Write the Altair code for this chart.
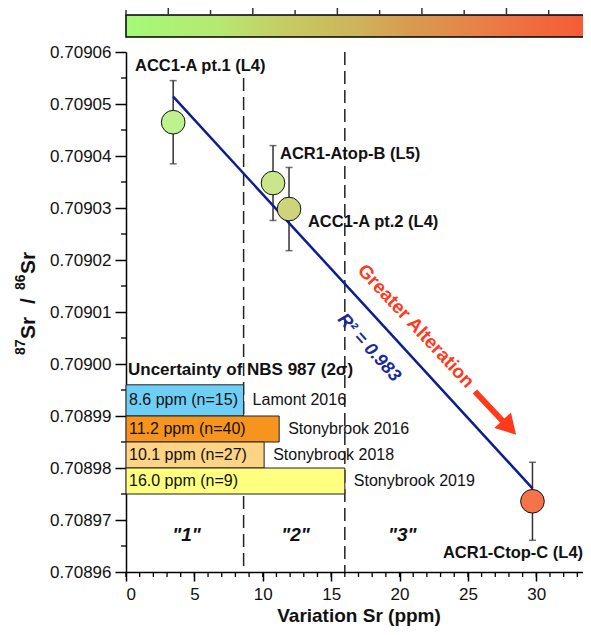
import altair as alt
import pandas as pd

# ---------------- data ----------------
samples = ["ACC1-A pt.1 (L4)", "ACR1-Atop-B (L5)", "ACC1-A pt.2 (L4)", "ACR1-Ctop-C (L4)"]
variation_sr = [3.45, 10.75, 11.92, 29.72]
sr_ratio = [0.7090465, 0.7090348, 0.7090298, 0.7089736]
sr_err = [0.0000080, 0.0000072, 0.0000080, 0.0000075]
point_colors = ["#bdf28e", "#c9e78a", "#cdd47c", "#f5734a"]

label_x = [0.66, 11.26, 13.30, 23.17]
label_y = [0.7090573, 0.7090404, 0.7090273, 0.7089637]

fit_x = [3.45, 29.72]
fit_y = [0.7090514, 0.7089761]
r2_text = "R\u00b2 = 0.983"

zone_bounds = [8.6, 16.0]
zone_tops = [0.709055, 0.709060]
zone_labels = ['"1"', '"2"', '"3"']
zone_label_x = [4.43, 12.4, 20.2]
zone_label_y = 0.7089671

sources = ["Lamont 2016", "Stonybrook 2016", "Stonybrook 2018", "Stonybrook 2019"]
uncert_ppm = [8.6, 11.2, 10.1, 16.0]
counts = [15, 40, 27, 9]
bar_top = [0.708996, 0.708990, 0.708985, 0.708980]
bar_bottom = [0.708990, 0.708985, 0.708980, 0.708975]
bar_colors = ["#6dcff6", "#f7941d", "#fdd385", "#ffff80"]
uncert_title = "Uncertainty of NBS 987 (2\u03c3)"
uncert_title_y = 0.7089988

x_ticks = [0, 5, 10, 15, 20, 25, 30]
x_minor = list(range(0, 35))
y_ticks = [0.70896, 0.70897, 0.70898, 0.70899, 0.70900, 0.70901, 0.70902, 0.70903, 0.70904, 0.70905, 0.70906]
y_minor = [0.708965, 0.708975, 0.708985, 0.708995, 0.709005, 0.709015, 0.709025, 0.709035, 0.709045, 0.709055]

# y-axis title pieces: 87Sr / 86Sr
ytitle_parts = ["87", "Sr", "/", "86", "Sr"]

arrow_text = "Greater Alteration"
arrow_text_pos = (21.2, 0.7090073)
arrow_shaft_x = [25.51, 27.56]
arrow_shaft_y = [0.7089947, 0.7089890]
arrow_head = (28.03, 0.7089878)
r2_pos = (17.76, 0.7090031)

colorbar_long = [1, 3, 5, 7, 9]
colorbar_short = [0, 2, 4, 6, 8, 10]

FONT = "Liberation Sans"
RED = "#ff3a1c"
NAVY = "#0b1e8f"

W, H = 457, 520
RANGE_W = 465

xs = alt.Scale(domain=[0, 34], range=[0, RANGE_W], nice=False, zero=False)
ys = alt.Scale(domain=[0.70896, 0.70906], nice=False, zero=False)

pts = pd.DataFrame({
    "sample": samples, "x": variation_sr, "y": sr_ratio,
    "lo": [v - e for v, e in zip(sr_ratio, sr_err)],
    "hi": [v + e for v, e in zip(sr_ratio, sr_err)],
    "lx": label_x, "ly": label_y,
})
fit = pd.DataFrame({"x": fit_x, "y": fit_y})
zones = pd.DataFrame({"x": zone_bounds, "top": zone_tops, "bottom": [0.70896, 0.70896]})
zlab = pd.DataFrame({"x": zone_label_x, "t": zone_labels, "y": [zone_label_y] * 3})
bars = pd.DataFrame({
    "source": sources, "v": uncert_ppm, "n": counts,
    "top": bar_top, "bottom": bar_bottom,
    "mid": [(a + b) / 2 for a, b in zip(bar_top, bar_bottom)],
    "inner": [f"{v:.1f} ppm (n={n})" for v, n in zip(uncert_ppm, counts)],
    "zero": [0] * 4,
})

X = lambda f: alt.X(f, scale=xs, axis=None)
Y = lambda f: alt.Y(f, scale=ys, axis=None)

# axes carrier (invisible points)
axes_layer = alt.Chart(pts).mark_point(opacity=0).encode(
    x=alt.X("x:Q", scale=xs, axis=alt.Axis(
        values=x_ticks, title="Variation Sr (ppm)", tickSize=9, labelPadding=5,
        titlePadding=4, grid=False)),
    y=alt.Y("y:Q", scale=ys, axis=alt.Axis(
        values=y_ticks, format=".5f", title=None, tickSize=11,
        labelPadding=4, grid=False)),
)

def title_piece(text, size, xpix, ypix):
    return alt.Chart(pd.DataFrame({"t": [text]})).mark_text(
        font=FONT, fontSize=size, fontWeight="bold", angle=270, align="left",
        baseline="alphabetic", color="#111111").encode(
        text="t:N", x=alt.value(xpix), y=alt.value(ypix))

ytitle = alt.layer(
    title_piece(ytitle_parts[0], 14, -101, 303),
    title_piece(ytitle_parts[1], 21, -91, 287),
    title_piece(ytitle_parts[2], 21, -91, 252),
    title_piece(ytitle_parts[3], 14, -101, 238),
    title_piece(ytitle_parts[4], 21, -91, 222),
)

x_minor_layer = alt.Chart(pd.DataFrame({"x": x_minor})).mark_rule(color="black", strokeWidth=1.3).encode(
    x=X("x:Q"), y=alt.value(H), y2=alt.value(H + 5))
y_minor_layer = alt.Chart(pd.DataFrame({"y": y_minor})).mark_rule(color="black", strokeWidth=1.3).encode(
    y=Y("y:Q"), x=alt.value(0), x2=alt.value(-5))

zone_lines = alt.Chart(zones).mark_rule(color="#222222", strokeWidth=1.5, strokeDash=[13, 6]).encode(
    x=X("x:Q"), y=Y("top:Q"), y2="bottom:Q")

zone_text = alt.Chart(zlab).mark_text(font=FONT, fontSize=19, fontWeight="bold", fontStyle="italic",
                                      color="#111111").encode(
    x=X("x:Q"), y=Y("y:Q"), text="t:N")

bar_rects = alt.Chart(bars).mark_rect(stroke="#222222", strokeWidth=1).encode(
    x=X("zero:Q"), x2="v:Q", y=Y("top:Q"), y2="bottom:Q",
    fill=alt.Fill("source:N", scale=alt.Scale(domain=sources, range=bar_colors), legend=None))
bar_inner = alt.Chart(bars).mark_text(font=FONT, fontSize=16, align="left", dx=3, color="#111111").encode(
    x=X("zero:Q"), y=Y("mid:Q"), text="inner:N")
bar_right = alt.Chart(bars).mark_text(font=FONT, fontSize=16, align="left", dx=9, color="#111111").encode(
    x=X("v:Q"), y=Y("mid:Q"), text="source:N")
uncert_lab = alt.Chart(pd.DataFrame({"x": [0], "y": [uncert_title_y], "t": [uncert_title]})).mark_text(
    font=FONT, fontSize=17, fontWeight="bold", align="left", dx=2, color="#111111").encode(
    x=X("x:Q"), y=Y("y:Q"), text="t:N")

err_rule = alt.Chart(pts).mark_rule(color="#333333", strokeWidth=1.5).encode(
    x=X("x:Q"), y=Y("lo:Q"), y2="hi:Q")
err_cap_hi = alt.Chart(pts).mark_tick(color="#333333", orient="horizontal", size=7, thickness=1.5).encode(
    x=X("x:Q"), y=Y("hi:Q"))
err_cap_lo = alt.Chart(pts).mark_tick(color="#333333", orient="horizontal", size=7, thickness=1.5).encode(
    x=X("x:Q"), y=Y("lo:Q"))

fit_line = alt.Chart(fit).mark_line(color=NAVY, strokeWidth=2.5).encode(x=X("x:Q"), y=Y("y:Q"))

points = alt.Chart(pts).mark_point(filled=True, shape="circle", size=560, stroke="#111111",
                                   strokeWidth=1, opacity=1).encode(
    x=X("x:Q"), y=Y("y:Q"),
    fill=alt.Fill("sample:N", scale=alt.Scale(domain=samples, range=point_colors), legend=None))

pt_labels = alt.Chart(pts).mark_text(font=FONT, fontSize=16.5, fontWeight="bold", align="left",
                                     color="#111111").encode(
    x=X("lx:Q"), y=Y("ly:Q"), text="sample:N")

r2 = alt.Chart(pd.DataFrame({"x": [r2_pos[0]], "y": [r2_pos[1]], "t": [r2_text]})).mark_text(
    font=FONT, fontSize=18, fontWeight="bold", fontStyle="italic", color="#1a2a9a", angle=48).encode(
    x=X("x:Q"), y=Y("y:Q"), text="t:N")

alt_text = alt.Chart(pd.DataFrame({"x": [arrow_text_pos[0]], "y": [arrow_text_pos[1]], "t": [arrow_text]})).mark_text(
    font=FONT, fontSize=19, fontWeight="bold", color=RED, angle=47).encode(
    x=X("x:Q"), y=Y("y:Q"), text="t:N")

shaft = alt.Chart(pd.DataFrame({"x": [arrow_shaft_x[0]], "x2": [arrow_shaft_x[1]],
                                "y": [arrow_shaft_y[0]], "y2": [arrow_shaft_y[1]]})).mark_rule(
    color=RED, strokeWidth=6).encode(x=X("x:Q"), x2="x2:Q", y=Y("y:Q"), y2="y2:Q")
head = alt.Chart(pd.DataFrame({"x": [arrow_head[0]], "y": [arrow_head[1]]})).mark_point(
    shape="triangle-right", filled=True, fill=RED, color=RED, size=520, angle=47, opacity=1).encode(
    x=X("x:Q"), y=Y("y:Q"))

main = alt.layer(
    axes_layer, x_minor_layer, y_minor_layer, zone_lines, zone_text,
    bar_rects, bar_inner, bar_right, uncert_lab,
    err_rule, err_cap_hi, err_cap_lo, fit_line, points, pt_labels,
    r2, alt_text, shaft, head, ytitle,
).resolve_scale(fill="independent").resolve_axis(x="independent", y="independent")

cb_scale = alt.Scale(domain=[0, 11], range=[0, RANGE_W], nice=False, zero=False)
gradient = alt.LinearGradient(
    gradient="linear", x1=0, x2=1, y1=0, y2=0,
    stops=[
        alt.GradientStop(color="#a4fa78", offset=0.0),
        alt.GradientStop(color="#b6e872", offset=0.2),
        alt.GradientStop(color="#c6ca64", offset=0.35),
        alt.GradientStop(color="#ceb35a", offset=0.5),
        alt.GradientStop(color="#d9994f", offset=0.62),
        alt.GradientStop(color="#e68348", offset=0.75),
        alt.GradientStop(color="#ef6c3f", offset=0.87),
        alt.GradientStop(color="#f55a35", offset=1.0),
    ])
cb_rect = alt.Chart(pd.DataFrame({"a": [0]})).mark_rect(fill=gradient, stroke="black", strokeWidth=1.5).encode(
    x=alt.X("a:Q", scale=cb_scale, axis=None), x2=alt.datum(11),
    y=alt.value(-37), y2=alt.value(-15))
cb_long = alt.Chart(pd.DataFrame({"t": colorbar_long})).mark_rule(color="#333333", strokeWidth=1.5).encode(
    x=alt.X("t:Q", scale=cb_scale, axis=None), y=alt.value(-48), y2=alt.value(-37))
cb_short = alt.Chart(pd.DataFrame({"t": colorbar_short})).mark_rule(color="#333333", strokeWidth=1.5).encode(
    x=alt.X("t:Q", scale=cb_scale, axis=None), y=alt.value(-42), y2=alt.value(-37))
colorbar = alt.layer(cb_rect, cb_long, cb_short)

chart = alt.layer(main, colorbar).resolve_scale(x="independent").properties(
    width=W, height=H,
    autosize=alt.AutoSizeParams(type="none"),
    padding={"left": 118, "top": 44, "right": 0, "bottom": 55},
    background="white",
).configure_view(stroke=None).configure_axis(
    labelFont=FONT, labelFontSize=17, labelColor="#111111",
    titleFont=FONT, titleFontWeight="bold", titleColor="#111111",
    domainColor="black", domainWidth=1.5, tickColor="black", tickWidth=1.5,
).configure_axisX(titleFontSize=19)

chart.save("out.html", embed_options={"renderer": "svg", "actions": False})
